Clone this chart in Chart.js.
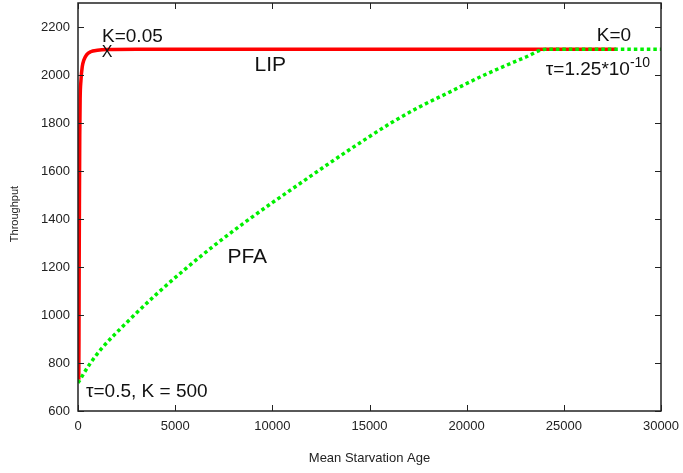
<!DOCTYPE html>
<html>
<head>
<meta charset="utf-8">
<script src="https://cdn.jsdelivr.net/npm/chart.js@4"></script>
<style>
  html, body { margin: 0; padding: 0; background: #fff; }
  #wrap { width: 683px; height: 473px; }
</style>
</head>
<body>
<div id="wrap"><canvas id="chart" width="683" height="473"></canvas></div>
<script>
// LIP curve (red)
const lipX = [40, 50, 60, 75, 90, 110, 150, 220, 300, 450, 650, 1000, 1500, 3000, 27700];
const lipY = [730, 900, 1200, 1500, 1750, 1900, 1975, 2035, 2062, 2085, 2097, 2103, 2106, 2107, 2107];

// PFA curve (green, dotted)
const pfaX = [0, 600, 1222, 2500, 4000, 5500, 7000, 8500, 10000, 11443, 13000, 14500, 16082, 17500, 19175, 20722, 22000, 23000, 24072, 30000];
const pfaY = [717, 795, 861, 968, 1084, 1190, 1289, 1381, 1468, 1549, 1636, 1717, 1799, 1864, 1931, 1993, 2039, 2073, 2107, 2107];

const xTicks = [0, 5000, 10000, 15000, 20000, 25000, 30000];
const yTicks = [600, 800, 1000, 1200, 1400, 1600, 1800, 2000, 2200];

const FONT = '"Liberation Sans", Arial, sans-serif';

function toPoints(xs, ys) {
  return xs.map((x, i) => ({ x, y: ys[i] }));
}

// text notes placed in data coordinates
const notes = [
  { text: 'K=0.05', x: 1237, y: 2158, size: 19, align: 'left' },
  { text: 'X', x: 1495, y: 2094, size: 16, align: 'center' },
  { text: 'LIP', x: 9897, y: 2042, size: 21, align: 'center' },
  { text: 'PFA', x: 8711, y: 1240, size: 21, align: 'center' },
  { text: 'K=0', x: 27577, y: 2162, size: 19, align: 'center' },
  { text: 'τ=0.5, K = 500', x: 412, y: 679, size: 19, align: 'left' }
];

function noPadding(s) {
  s.paddingTop = 0;
  s.paddingBottom = 0;
  s.paddingLeft = 0;
  s.paddingRight = 0;
}

const frameAndNotes = {
  id: 'frameAndNotes',
  afterDatasetsDraw(chart) {
    const { ctx, chartArea: a, scales: { x, y } } = chart;
    ctx.save();
    ctx.strokeStyle = '#222';
    ctx.lineWidth = 1.5;
    ctx.strokeRect(a.left, a.top, a.right - a.left, a.bottom - a.top);
    ctx.lineWidth = 1;
    ctx.beginPath();
    xTicks.forEach(v => {
      const px = Math.round(x.getPixelForValue(v)) + 0.5;
      ctx.moveTo(px, a.bottom); ctx.lineTo(px, a.bottom - 6);
      ctx.moveTo(px, a.top); ctx.lineTo(px, a.top + 6);
    });
    yTicks.forEach(v => {
      const py = Math.round(y.getPixelForValue(v)) + 0.5;
      ctx.moveTo(a.left, py); ctx.lineTo(a.left + 6, py);
      ctx.moveTo(a.right, py); ctx.lineTo(a.right - 6, py);
    });
    ctx.stroke();

    ctx.fillStyle = '#111';
    ctx.textBaseline = 'middle';
    notes.forEach(n => {
      ctx.font = n.size + 'px ' + FONT;
      ctx.textAlign = n.align;
      ctx.fillText(n.text, x.getPixelForValue(n.x), y.getPixelForValue(n.y));
    });

    // tau label with superscript exponent
    const tx = x.getPixelForValue(24072);
    const ty = y.getPixelForValue(2000);
    ctx.textAlign = 'left';
    ctx.textBaseline = 'alphabetic';
    ctx.font = '19px ' + FONT;
    const base = 'τ=1.25*10';
    ctx.fillText(base, tx, ty);
    const w = ctx.measureText(base).width;
    ctx.font = '14px ' + FONT;
    ctx.fillText('-10', tx + w, ty - 8);

    // y axis title, sits a little below the middle in the original
    ctx.translate(15, (a.top + a.bottom) / 2 + 7);
    ctx.rotate(-Math.PI / 2);
    ctx.font = '11px ' + FONT;
    ctx.fillStyle = '#222';
    ctx.textAlign = 'center';
    ctx.textBaseline = 'middle';
    ctx.fillText('Throughput', 0, 0);
    ctx.restore();
  }
};

new Chart(document.getElementById('chart'), {
  type: 'line',
  data: {
    datasets: [
      {
        label: 'LIP',
        data: toPoints(lipX, lipY),
        borderColor: '#ff0000',
        borderWidth: 3.5,
        pointRadius: 0,
        cubicInterpolationMode: 'monotone',
        order: 2
      },
      {
        label: 'PFA',
        data: toPoints(pfaX, pfaY),
        borderColor: '#00f000',
        borderWidth: 3.5,
        borderDash: [3.5, 3],
        pointRadius: 0,
        cubicInterpolationMode: 'monotone',
        order: 1
      }
    ]
  },
  options: {
    responsive: false,
    animation: false,
    events: [],
    layout: { padding: { top: 3, right: 22, left: 30, bottom: 0 } },
    plugins: { legend: { display: false }, tooltip: { enabled: false } },
    scales: {
      x: {
        type: 'linear',
        min: 0,
        max: 30000,
        afterBuildTicks: s => { s.ticks = xTicks.map(v => ({ value: v })); },
        afterFit: s => { s.height = 62; noPadding(s); },
        grid: { display: false, drawTicks: false },
        border: { display: false },
        ticks: {
          padding: 8, color: '#222', font: { family: FONT, size: 13 },
          maxRotation: 0, callback: v => String(v)
        },
        title: {
          display: true,
          text: 'Mean Starvation Age',
          color: '#222',
          font: { family: FONT, size: 13 },
          padding: { top: 0, bottom: 7 }
        }
      },
      y: {
        type: 'linear',
        min: 600,
        max: 2300,
        afterBuildTicks: s => { s.ticks = yTicks.map(v => ({ value: v })); },
        afterFit: s => { s.width = 48; noPadding(s); },
        grid: { display: false, drawTicks: false },
        border: { display: false },
        ticks: {
          padding: 8, color: '#222', font: { family: FONT, size: 13 },
          callback: v => String(v)
        },
        title: { display: false }
      }
    }
  },
  plugins: [frameAndNotes]
});
</script>
</body>
</html>
